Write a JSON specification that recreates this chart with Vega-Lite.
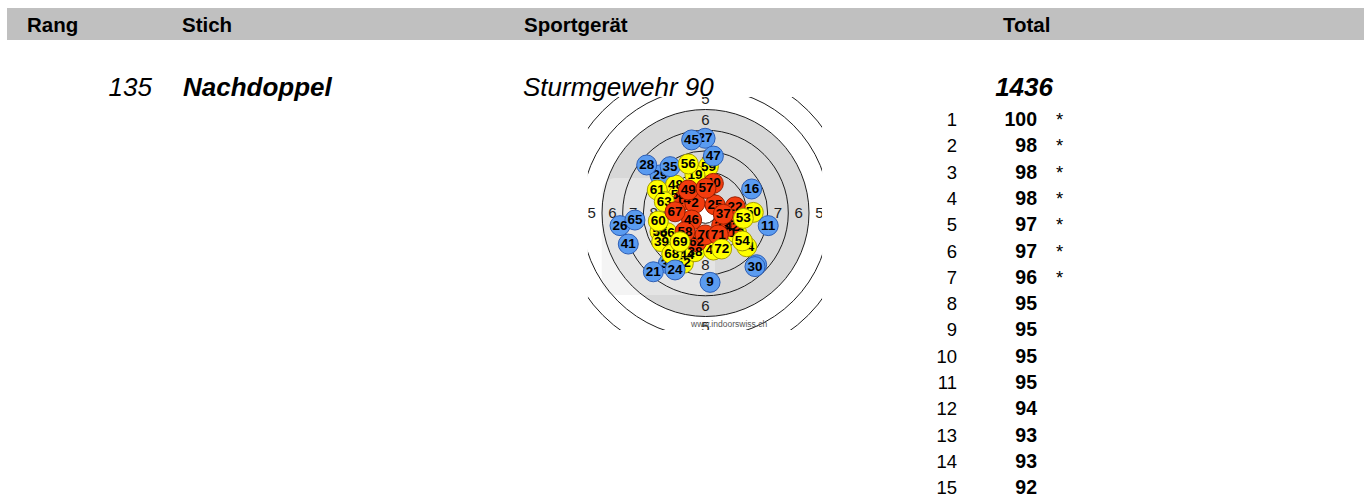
{
  "$schema": "https://vega.github.io/schema/vega-lite/v6.json",
  "width": 1364,
  "height": 500,
  "autosize": {"type": "none"},
  "padding": 0,
  "background": "white",
  "config": {"view": {"stroke": null}, "text": {"font": "Liberation Sans"}},
  "datasets": {
    "rings": [
      {"ring": "X", "r": 0.5}, {"ring": "10", "r": 1}, {"ring": "9", "r": 2}, {"ring": "8", "r": 3},
      {"ring": "7", "r": 4}, {"ring": "6", "r": 5}, {"ring": "5", "r": 6}, {"ring": "4", "r": 7}
    ],
    "ringLabels": [
      {"label": "5", "x": 0, "y": 5.5}, {"label": "5", "x": 0, "y": -5.5}, {"label": "5", "x": -5.5, "y": 0}, {"label": "5", "x": 5.5, "y": 0},
      {"label": "6", "x": 0, "y": 4.5}, {"label": "6", "x": 0, "y": -4.5}, {"label": "6", "x": -4.5, "y": 0}, {"label": "6", "x": 4.5, "y": 0},
      {"label": "7", "x": 0, "y": 3.5}, {"label": "7", "x": 0, "y": -3.5}, {"label": "7", "x": -3.5, "y": 0}, {"label": "7", "x": 3.5, "y": 0},
      {"label": "8", "x": 0, "y": 2.5}, {"label": "8", "x": 0, "y": -2.5}, {"label": "8", "x": -2.5, "y": 0}, {"label": "8", "x": 2.5, "y": 0}
    ],
    "shots": [
      {"shot": "29", "x": -2.20, "y": 1.84, "value": 8, "z": 1},
      {"shot": "59", "x": 0.14, "y": 2.24, "value": 9, "z": 1},
      {"shot": "19", "x": -0.51, "y": 1.84, "value": 9, "z": 1},
      {"shot": "48", "x": -1.45, "y": 1.35, "value": 9, "z": 1},
      {"shot": "31", "x": 2.47, "y": -2.50, "value": 7, "z": 1},
      {"shot": "33", "x": -1.80, "y": -2.45, "value": 8, "z": 1},
      {"shot": "55", "x": -2.20, "y": -0.90, "value": 9, "z": 1},
      {"shot": "39", "x": -2.12, "y": -1.39, "value": 9, "z": 1},
      {"shot": "66", "x": -1.85, "y": -0.95, "value": 9, "z": 1},
      {"shot": "44", "x": -0.91, "y": -2.03, "value": 9, "z": 1},
      {"shot": "52", "x": -1.07, "y": -2.43, "value": 9, "z": 1},
      {"shot": "38", "x": -0.51, "y": -1.87, "value": 9, "z": 1},
      {"shot": "50", "x": 2.31, "y": 0.03, "value": 9, "z": 1},
      {"shot": "13", "x": 1.51, "y": -0.98, "value": 9, "z": 1},
      {"shot": "64", "x": 1.99, "y": -1.63, "value": 9, "z": 1},
      {"shot": "43", "x": 0.38, "y": -1.79, "value": 9, "z": 1},
      {"shot": "51", "x": -1.31, "y": 0.87, "value": 9, "z": 1},
      {"shot": "40", "x": 0.38, "y": 1.43, "value": 10, "z": 1},
      {"shot": "14", "x": -1.07, "y": 0.63, "value": 10, "z": 1},
      {"shot": "2", "x": -0.51, "y": 0.47, "value": 10, "z": 1},
      {"shot": "36", "x": 1.10, "y": -0.26, "value": 10, "z": 1},
      {"shot": "42", "x": 1.27, "y": -0.66, "value": 10, "z": 1},
      {"shot": "23", "x": 0.78, "y": -0.61, "value": 10, "z": 1},
      {"shot": "62", "x": -0.43, "y": -1.39, "value": 10, "z": 1},
      {"shot": "70", "x": -0.02, "y": -1.06, "value": 10, "z": 1},
      {"shot": "27", "x": -0.02, "y": 3.61, "value": 7, "z": 2},
      {"shot": "61", "x": -2.33, "y": 1.11, "value": 9, "z": 2},
      {"shot": "63", "x": -1.99, "y": 0.55, "value": 9, "z": 2},
      {"shot": "49", "x": -0.83, "y": 1.11, "value": 10, "z": 2},
      {"shot": "25", "x": 0.46, "y": 0.39, "value": 10, "z": 2},
      {"shot": "22", "x": 1.43, "y": 0.30, "value": 10, "z": 2},
      {"shot": "46", "x": -0.67, "y": -0.34, "value": 10, "z": 2},
      {"shot": "58", "x": -0.99, "y": -0.90, "value": 10, "z": 2},
      {"shot": "60", "x": -2.28, "y": -0.39, "value": 9, "z": 2},
      {"shot": "68", "x": -1.63, "y": -1.98, "value": 9, "z": 2},
      {"shot": "45", "x": -0.67, "y": 3.53, "value": 7, "z": 3},
      {"shot": "47", "x": 0.38, "y": 2.75, "value": 8, "z": 3},
      {"shot": "28", "x": -2.84, "y": 2.32, "value": 7, "z": 3},
      {"shot": "35", "x": -1.71, "y": 2.24, "value": 8, "z": 3},
      {"shot": "56", "x": -0.83, "y": 2.37, "value": 9, "z": 3},
      {"shot": "57", "x": 0.02, "y": 1.19, "value": 10, "z": 3},
      {"shot": "16", "x": 2.23, "y": 1.16, "value": 8, "z": 3},
      {"shot": "67", "x": -1.47, "y": 0.06, "value": 10, "z": 3},
      {"shot": "37", "x": 0.86, "y": -0.06, "value": 10, "z": 3},
      {"shot": "53", "x": 1.83, "y": -0.26, "value": 9, "z": 3},
      {"shot": "11", "x": 3.03, "y": -0.61, "value": 8, "z": 3},
      {"shot": "26", "x": -4.13, "y": -0.61, "value": 7, "z": 3},
      {"shot": "65", "x": -3.41, "y": -0.34, "value": 8, "z": 3},
      {"shot": "41", "x": -3.73, "y": -1.50, "value": 7, "z": 3},
      {"shot": "69", "x": -1.23, "y": -1.39, "value": 9, "z": 3},
      {"shot": "71", "x": 0.62, "y": -1.06, "value": 10, "z": 3},
      {"shot": "54", "x": 1.78, "y": -1.35, "value": 9, "z": 3},
      {"shot": "72", "x": 0.78, "y": -1.74, "value": 9, "z": 3},
      {"shot": "21", "x": -2.52, "y": -2.84, "value": 7, "z": 3},
      {"shot": "24", "x": -1.47, "y": -2.75, "value": 8, "z": 3},
      {"shot": "9", "x": 0.22, "y": -3.35, "value": 8, "z": 3},
      {"shot": "30", "x": 2.39, "y": -2.59, "value": 7, "z": 3}
    ],
    "heads": [{"rang": "Rang", "stich": "Stich", "geraet": "Sportgerät", "total": "Total"}],
    "entry": [{"rang": "135", "stich": "Nachdoppel", "geraet": "Sturmgewehr 90", "total": "1436"}],
    "series": [
      {"n": 1, "score": 100, "star": "*"}, {"n": 2, "score": 98, "star": "*"}, {"n": 3, "score": 98, "star": "*"},
      {"n": 4, "score": 98, "star": "*"}, {"n": 5, "score": 97, "star": "*"}, {"n": 6, "score": 97, "star": "*"},
      {"n": 7, "score": 96, "star": "*"}, {"n": 8, "score": 95, "star": ""}, {"n": 9, "score": 95, "star": ""},
      {"n": 10, "score": 95, "star": ""}, {"n": 11, "score": 95, "star": ""}, {"n": 12, "score": 94, "star": ""},
      {"n": 13, "score": 93, "star": ""}, {"n": 14, "score": 93, "star": ""}, {"n": 15, "score": 92, "star": ""}
    ],
    "site": [{"url": "www.indoorswiss.ch"}]
  },
  "resolve": {"scale": {"x": "independent", "y": "independent", "size": "independent", "color": "independent", "stroke": "independent"}},
  "layer": [
    {
      "layer": [
        {
          "data": {"name": "rings"},
          "transform": [{"filter": "datum.r == 5"}],
          "mark": {"type": "point", "filled": true, "color": "#d8d8d8", "strokeWidth": 0, "opacity": 1},
          "encoding": {
            "x": {"datum": 0, "type": "quantitative", "scale": {"domain": [-10, 10], "range": [498.5, 912.5], "nice": false, "zero": false}, "axis": null},
            "y": {"datum": 0, "type": "quantitative", "scale": {"domain": [-10, 10], "range": [420, 6], "nice": false, "zero": false}, "axis": null},
            "size": {"field": "r", "type": "quantitative", "scale": {"type": "pow", "exponent": 2, "domain": [0, 7], "range": [0, 83984]}, "legend": null}
          }
        },
        {
          "data": {"values": [{}]},
          "mark": {"type": "rect", "color": "#ececec", "opacity": 0.6, "cornerRadius": 14},
          "encoding": {
            "x": {"datum": -5.01, "type": "quantitative", "scale": {"domain": [-10, 10], "range": [498.5, 912.5], "nice": false, "zero": false}, "axis": null},
            "x2": {"datum": 0.46},
            "y": {"datum": 1.69, "type": "quantitative", "scale": {"domain": [-10, 10], "range": [420, 6], "nice": false, "zero": false}, "axis": null},
            "y2": {"datum": -3.96}
          }
        },
        {
          "data": {"name": "rings"},
          "transform": [{"filter": "datum.r == 0.5"}],
          "mark": {"type": "point", "filled": true, "color": "#ffffff", "strokeWidth": 0, "opacity": 1},
          "encoding": {
            "x": {"datum": 0, "type": "quantitative", "scale": {"domain": [-10, 10], "range": [498.5, 912.5], "nice": false, "zero": false}, "axis": null},
            "y": {"datum": 0, "type": "quantitative", "scale": {"domain": [-10, 10], "range": [420, 6], "nice": false, "zero": false}, "axis": null},
            "size": {"field": "r", "type": "quantitative", "scale": {"type": "pow", "exponent": 2, "domain": [0, 7], "range": [0, 83984]}, "legend": null}
          }
        },
        {
          "data": {"name": "rings"},
          "mark": {"type": "point", "filled": false, "color": "#1e1e1e", "strokeWidth": 1, "opacity": 1},
          "encoding": {
            "x": {"datum": 0, "type": "quantitative", "scale": {"domain": [-10, 10], "range": [498.5, 912.5], "nice": false, "zero": false}, "axis": null},
            "y": {"datum": 0, "type": "quantitative", "scale": {"domain": [-10, 10], "range": [420, 6], "nice": false, "zero": false}, "axis": null},
            "size": {"field": "r", "type": "quantitative", "scale": {"type": "pow", "exponent": 2, "domain": [0, 7], "range": [0, 83984]}, "legend": null}
          }
        },
        {
          "data": {"name": "ringLabels"},
          "mark": {"type": "text", "fontSize": 15, "color": "#1e1e1e", "align": "center", "baseline": "middle"},
          "encoding": {
            "x": {"field": "x", "type": "quantitative", "scale": {"domain": [-10, 10], "range": [498.5, 912.5], "nice": false, "zero": false}, "axis": null},
            "y": {"field": "y", "type": "quantitative", "scale": {"domain": [-10, 10], "range": [420, 6], "nice": false, "zero": false}, "axis": null},
            "text": {"field": "label"}
          }
        },
        {
          "data": {"name": "site"},
          "mark": {"type": "text", "fontSize": 8.5, "color": "#555555", "align": "center", "baseline": "middle"},
          "encoding": {
            "x": {"datum": 1.14, "type": "quantitative", "scale": {"domain": [-10, 10], "range": [498.5, 912.5], "nice": false, "zero": false}, "axis": null},
            "y": {"datum": -5.36, "type": "quantitative", "scale": {"domain": [-10, 10], "range": [420, 6], "nice": false, "zero": false}, "axis": null},
            "text": {"field": "url"}
          }
        },
        {
          "data": {"name": "shots"},
          "transform": [{"filter": "datum.z == 1"}],
          "mark": {"type": "point", "filled": true, "size": 400, "opacity": 1, "strokeWidth": 1},
          "encoding": {
            "x": {"field": "x", "type": "quantitative", "scale": {"domain": [-10, 10], "range": [498.5, 912.5], "nice": false, "zero": false}, "axis": null},
            "y": {"field": "y", "type": "quantitative", "scale": {"domain": [-10, 10], "range": [420, 6], "nice": false, "zero": false}, "axis": null},
            "color": {"field": "value", "type": "ordinal", "scale": {"domain": [6, 7, 8, 9, 10], "range": ["#5a9bf0", "#5a9bf0", "#5a9bf0", "#ffff00", "#f23c0e"]}, "legend": null},
            "stroke": {"field": "value", "type": "ordinal", "scale": {"domain": [6, 7, 8, 9, 10], "range": ["#2b5db5", "#2b5db5", "#2b5db5", "#a89f00", "#9c2000"]}, "legend": null}
          }
        },
        {
          "data": {"name": "shots"},
          "transform": [{"filter": "datum.z == 1"}],
          "mark": {"type": "text", "fontSize": 13.5, "fontWeight": "bold", "color": "#000000", "align": "center", "baseline": "middle"},
          "encoding": {
            "x": {"field": "x", "type": "quantitative", "scale": {"domain": [-10, 10], "range": [498.5, 912.5], "nice": false, "zero": false}, "axis": null},
            "y": {"field": "y", "type": "quantitative", "scale": {"domain": [-10, 10], "range": [420, 6], "nice": false, "zero": false}, "axis": null},
            "text": {"field": "shot"}
          }
        },
        {
          "data": {"name": "shots"},
          "transform": [{"filter": "datum.z == 2"}],
          "mark": {"type": "point", "filled": true, "size": 400, "opacity": 1, "strokeWidth": 1},
          "encoding": {
            "x": {"field": "x", "type": "quantitative", "scale": {"domain": [-10, 10], "range": [498.5, 912.5], "nice": false, "zero": false}, "axis": null},
            "y": {"field": "y", "type": "quantitative", "scale": {"domain": [-10, 10], "range": [420, 6], "nice": false, "zero": false}, "axis": null},
            "color": {"field": "value", "type": "ordinal", "scale": {"domain": [6, 7, 8, 9, 10], "range": ["#5a9bf0", "#5a9bf0", "#5a9bf0", "#ffff00", "#f23c0e"]}, "legend": null},
            "stroke": {"field": "value", "type": "ordinal", "scale": {"domain": [6, 7, 8, 9, 10], "range": ["#2b5db5", "#2b5db5", "#2b5db5", "#a89f00", "#9c2000"]}, "legend": null}
          }
        },
        {
          "data": {"name": "shots"},
          "transform": [{"filter": "datum.z == 2"}],
          "mark": {"type": "text", "fontSize": 13.5, "fontWeight": "bold", "color": "#000000", "align": "center", "baseline": "middle"},
          "encoding": {
            "x": {"field": "x", "type": "quantitative", "scale": {"domain": [-10, 10], "range": [498.5, 912.5], "nice": false, "zero": false}, "axis": null},
            "y": {"field": "y", "type": "quantitative", "scale": {"domain": [-10, 10], "range": [420, 6], "nice": false, "zero": false}, "axis": null},
            "text": {"field": "shot"}
          }
        },
        {
          "data": {"name": "shots"},
          "transform": [{"filter": "datum.z == 3"}],
          "mark": {"type": "point", "filled": true, "size": 400, "opacity": 1, "strokeWidth": 1},
          "encoding": {
            "x": {"field": "x", "type": "quantitative", "scale": {"domain": [-10, 10], "range": [498.5, 912.5], "nice": false, "zero": false}, "axis": null},
            "y": {"field": "y", "type": "quantitative", "scale": {"domain": [-10, 10], "range": [420, 6], "nice": false, "zero": false}, "axis": null},
            "color": {"field": "value", "type": "ordinal", "scale": {"domain": [6, 7, 8, 9, 10], "range": ["#5a9bf0", "#5a9bf0", "#5a9bf0", "#ffff00", "#f23c0e"]}, "legend": null},
            "stroke": {"field": "value", "type": "ordinal", "scale": {"domain": [6, 7, 8, 9, 10], "range": ["#2b5db5", "#2b5db5", "#2b5db5", "#a89f00", "#9c2000"]}, "legend": null}
          }
        },
        {
          "data": {"name": "shots"},
          "transform": [{"filter": "datum.z == 3"}],
          "mark": {"type": "text", "fontSize": 13.5, "fontWeight": "bold", "color": "#000000", "align": "center", "baseline": "middle"},
          "encoding": {
            "x": {"field": "x", "type": "quantitative", "scale": {"domain": [-10, 10], "range": [498.5, 912.5], "nice": false, "zero": false}, "axis": null},
            "y": {"field": "y", "type": "quantitative", "scale": {"domain": [-10, 10], "range": [420, 6], "nice": false, "zero": false}, "axis": null},
            "text": {"field": "shot"}
          }
        },
        {
          "data": {"values": [{}]},
          "mark": {"type": "rect", "color": "#ffffff", "opacity": 1},
          "encoding": {
            "x": {"datum": -7.6, "type": "quantitative", "scale": {"domain": [-10, 10], "range": [498.5, 912.5], "nice": false, "zero": false}, "axis": null},
            "x2": {"datum": 7.6},
            "y": {"datum": 5.6, "type": "quantitative", "scale": {"domain": [-10, 10], "range": [420, 6], "nice": false, "zero": false}, "axis": null},
            "y2": {"datum": 7.6}
          }
        },
        {
          "data": {"values": [{}]},
          "mark": {"type": "rect", "color": "#ffffff", "opacity": 1},
          "encoding": {
            "x": {"datum": -7.6, "type": "quantitative", "scale": {"domain": [-10, 10], "range": [498.5, 912.5], "nice": false, "zero": false}, "axis": null},
            "x2": {"datum": 7.6},
            "y": {"datum": -5.65, "type": "quantitative", "scale": {"domain": [-10, 10], "range": [420, 6], "nice": false, "zero": false}, "axis": null},
            "y2": {"datum": -7.6}
          }
        },
        {
          "data": {"values": [{}]},
          "mark": {"type": "rect", "color": "#ffffff", "opacity": 1},
          "encoding": {
            "x": {"datum": -7.6, "type": "quantitative", "scale": {"domain": [-10, 10], "range": [498.5, 912.5], "nice": false, "zero": false}, "axis": null},
            "x2": {"datum": -5.68},
            "y": {"datum": -7.6, "type": "quantitative", "scale": {"domain": [-10, 10], "range": [420, 6], "nice": false, "zero": false}, "axis": null},
            "y2": {"datum": 7.6}
          }
        },
        {
          "data": {"values": [{}]},
          "mark": {"type": "rect", "color": "#ffffff", "opacity": 1},
          "encoding": {
            "x": {"datum": 5.63, "type": "quantitative", "scale": {"domain": [-10, 10], "range": [498.5, 912.5], "nice": false, "zero": false}, "axis": null},
            "x2": {"datum": 7.6},
            "y": {"datum": -7.6, "type": "quantitative", "scale": {"domain": [-10, 10], "range": [420, 6], "nice": false, "zero": false}, "axis": null},
            "y2": {"datum": 7.6}
          }
        }
      ]
    },
    {
      "layer": [
        {
          "data": {"values": [{}]},
          "mark": {"type": "rect", "color": "#c0c0c0", "opacity": 1},
          "encoding": {
            "x": {"datum": 7, "type": "quantitative", "scale": {"domain": [0, 1364], "range": [0, 1364], "nice": false, "zero": false}, "axis": null},
            "x2": {"datum": 1364},
            "y": {"datum": 8, "type": "quantitative", "scale": {"domain": [0, 500], "range": [0, 500], "nice": false, "zero": false}, "axis": null},
            "y2": {"datum": 40}
          }
        },
        {
          "data": {"name": "heads"},
          "mark": {"type": "text", "fontSize": 20.5, "fontWeight": "bold", "color": "#000000", "align": "left", "baseline": "alphabetic"},
          "encoding": {
            "x": {"datum": 27, "type": "quantitative", "scale": {"domain": [0, 1364], "range": [0, 1364], "nice": false, "zero": false}, "axis": null},
            "y": {"datum": 31.5, "type": "quantitative", "scale": {"domain": [0, 500], "range": [0, 500], "nice": false, "zero": false}, "axis": null},
            "text": {"field": "rang"}
          }
        },
        {
          "data": {"name": "heads"},
          "mark": {"type": "text", "fontSize": 20.5, "fontWeight": "bold", "color": "#000000", "align": "left", "baseline": "alphabetic"},
          "encoding": {
            "x": {"datum": 182, "type": "quantitative", "scale": {"domain": [0, 1364], "range": [0, 1364], "nice": false, "zero": false}, "axis": null},
            "y": {"datum": 31.5, "type": "quantitative", "scale": {"domain": [0, 500], "range": [0, 500], "nice": false, "zero": false}, "axis": null},
            "text": {"field": "stich"}
          }
        },
        {
          "data": {"name": "heads"},
          "mark": {"type": "text", "fontSize": 20.5, "fontWeight": "bold", "color": "#000000", "align": "left", "baseline": "alphabetic"},
          "encoding": {
            "x": {"datum": 524, "type": "quantitative", "scale": {"domain": [0, 1364], "range": [0, 1364], "nice": false, "zero": false}, "axis": null},
            "y": {"datum": 31.5, "type": "quantitative", "scale": {"domain": [0, 500], "range": [0, 500], "nice": false, "zero": false}, "axis": null},
            "text": {"field": "geraet"}
          }
        },
        {
          "data": {"name": "heads"},
          "mark": {"type": "text", "fontSize": 20.5, "fontWeight": "bold", "color": "#000000", "align": "left", "baseline": "alphabetic"},
          "encoding": {
            "x": {"datum": 1003, "type": "quantitative", "scale": {"domain": [0, 1364], "range": [0, 1364], "nice": false, "zero": false}, "axis": null},
            "y": {"datum": 31.5, "type": "quantitative", "scale": {"domain": [0, 500], "range": [0, 500], "nice": false, "zero": false}, "axis": null},
            "text": {"field": "total"}
          }
        },
        {
          "data": {"name": "entry"},
          "mark": {"type": "text", "fontSize": 26, "fontStyle": "italic", "color": "#000000", "align": "right", "baseline": "alphabetic"},
          "encoding": {
            "x": {"datum": 152, "type": "quantitative", "scale": {"domain": [0, 1364], "range": [0, 1364], "nice": false, "zero": false}, "axis": null},
            "y": {"datum": 95.5, "type": "quantitative", "scale": {"domain": [0, 500], "range": [0, 500], "nice": false, "zero": false}, "axis": null},
            "text": {"field": "rang"}
          }
        },
        {
          "data": {"name": "entry"},
          "mark": {"type": "text", "fontSize": 26, "fontStyle": "italic", "fontWeight": "bold", "color": "#000000", "align": "left", "baseline": "alphabetic"},
          "encoding": {
            "x": {"datum": 183, "type": "quantitative", "scale": {"domain": [0, 1364], "range": [0, 1364], "nice": false, "zero": false}, "axis": null},
            "y": {"datum": 95.5, "type": "quantitative", "scale": {"domain": [0, 500], "range": [0, 500], "nice": false, "zero": false}, "axis": null},
            "text": {"field": "stich"}
          }
        },
        {
          "data": {"name": "entry"},
          "mark": {"type": "text", "fontSize": 26, "fontStyle": "italic", "color": "#000000", "align": "left", "baseline": "alphabetic"},
          "encoding": {
            "x": {"datum": 523, "type": "quantitative", "scale": {"domain": [0, 1364], "range": [0, 1364], "nice": false, "zero": false}, "axis": null},
            "y": {"datum": 95.5, "type": "quantitative", "scale": {"domain": [0, 500], "range": [0, 500], "nice": false, "zero": false}, "axis": null},
            "text": {"field": "geraet"}
          }
        },
        {
          "data": {"name": "entry"},
          "mark": {"type": "text", "fontSize": 26, "fontStyle": "italic", "fontWeight": "bold", "color": "#000000", "align": "right", "baseline": "alphabetic"},
          "encoding": {
            "x": {"datum": 1053, "type": "quantitative", "scale": {"domain": [0, 1364], "range": [0, 1364], "nice": false, "zero": false}, "axis": null},
            "y": {"datum": 95.5, "type": "quantitative", "scale": {"domain": [0, 500], "range": [0, 500], "nice": false, "zero": false}, "axis": null},
            "text": {"field": "total"}
          }
        }
      ]
    },
    {
      "data": {"name": "series"},
      "layer": [
        {
          "mark": {"type": "text", "fontSize": 18.5, "color": "#000000", "align": "right", "baseline": "alphabetic"},
          "encoding": {
            "x": {"datum": 957, "type": "quantitative", "scale": {"domain": [0, 1364], "range": [0, 1364], "nice": false, "zero": false}, "axis": null},
            "y": {"field": "n", "type": "quantitative", "scale": {"domain": [1, 15], "range": [126, 494.2], "nice": false, "zero": false}, "axis": null},
            "text": {"field": "n"}
          }
        },
        {
          "mark": {"type": "text", "fontSize": 19.5, "fontWeight": "bold", "color": "#000000", "align": "right", "baseline": "alphabetic"},
          "encoding": {
            "x": {"datum": 1037, "type": "quantitative", "scale": {"domain": [0, 1364], "range": [0, 1364], "nice": false, "zero": false}, "axis": null},
            "y": {"field": "n", "type": "quantitative", "scale": {"domain": [1, 15], "range": [126, 494.2], "nice": false, "zero": false}, "axis": null},
            "text": {"field": "score"}
          }
        },
        {
          "mark": {"type": "text", "fontSize": 18.5, "color": "#000000", "align": "left", "baseline": "alphabetic"},
          "encoding": {
            "x": {"datum": 1056, "type": "quantitative", "scale": {"domain": [0, 1364], "range": [0, 1364], "nice": false, "zero": false}, "axis": null},
            "y": {"field": "n", "type": "quantitative", "scale": {"domain": [1, 15], "range": [126, 494.2], "nice": false, "zero": false}, "axis": null},
            "text": {"field": "star"}
          }
        }
      ]
    }
  ]
}
